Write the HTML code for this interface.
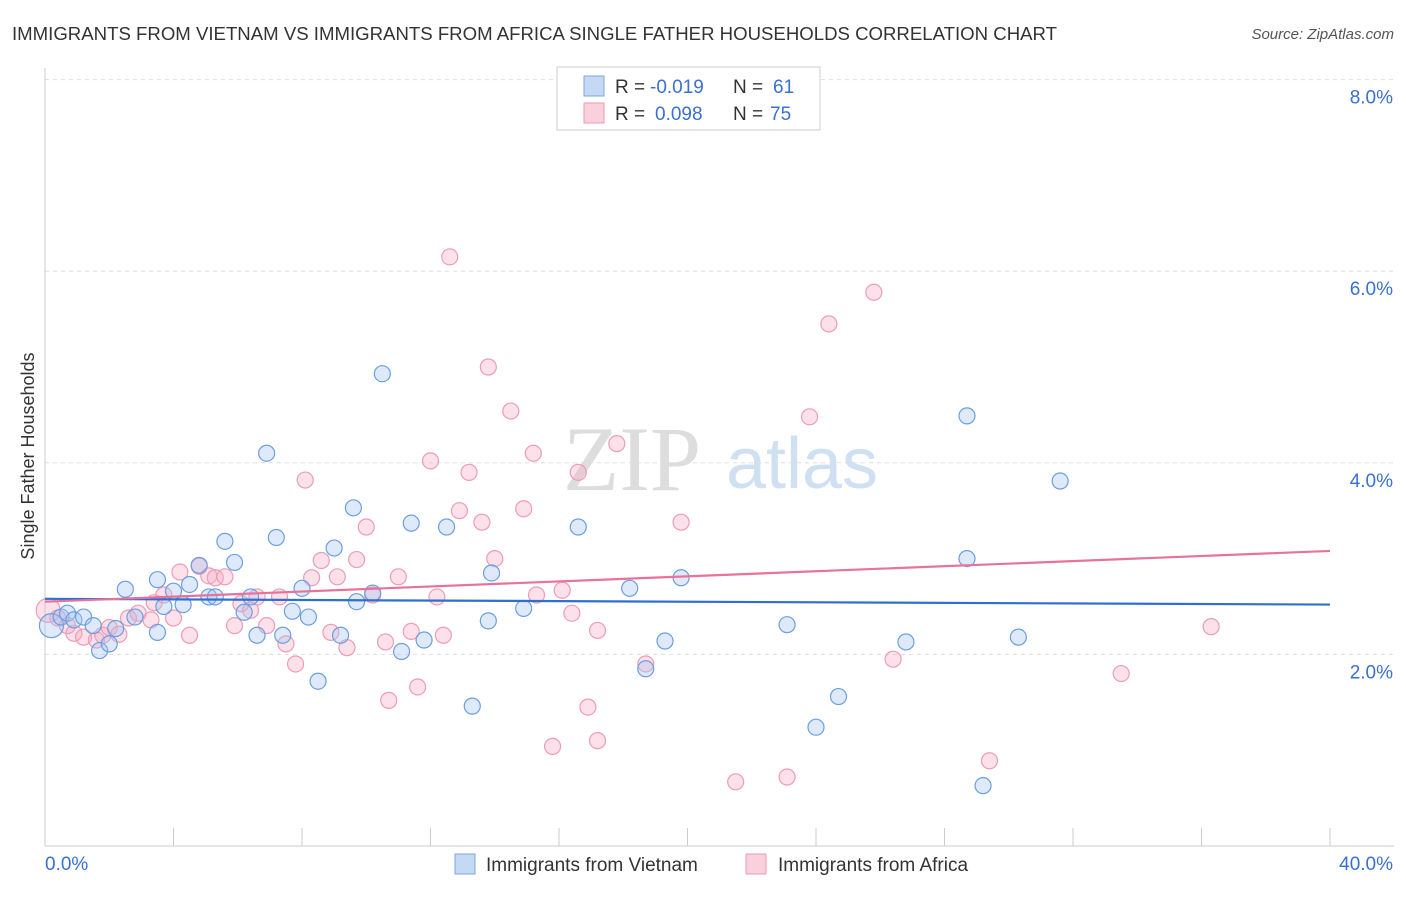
<!DOCTYPE html>
<html><head><meta charset="utf-8"><style>
body{margin:0;background:#fff;font-family:"Liberation Sans",sans-serif}
</style></head><body>
<svg id="c" width="1406" height="892" xmlns="http://www.w3.org/2000/svg">
<text x="12" y="40" font-size="18" fill="#333" textLength="1045" lengthAdjust="spacingAndGlyphs">IMMIGRANTS FROM VIETNAM VS IMMIGRANTS FROM AFRICA SINGLE FATHER HOUSEHOLDS CORRELATION CHART</text>
<text x="1394" y="39" font-size="15" fill="#555" font-style="italic" text-anchor="end">Source: ZipAtlas.com</text>
<text x="632" y="490" font-size="92" fill="#ddd" font-family="Liberation Serif" text-anchor="middle">ZIP</text>
<text x="802" y="488" font-size="72" fill="#cfe0f3" text-anchor="middle">atlas</text>
<g id="grid"></g><g id="pts"></g><g id="trend"></g>
<text transform="translate(34,456) rotate(-90)" font-size="18" fill="#333" text-anchor="middle">Single Father Households</text>
<rect x="557" y="67" width="263" height="63" fill="#fff" stroke="#ccc"/>
<rect x="584" y="76" width="20" height="20" fill="#c5d9f5" stroke="#7aa6e0"/>
<rect x="584" y="103" width="20" height="20" fill="#fbd0dd" stroke="#ec9ab4"/>
<g font-size="19" fill="#333">
<text x="615" y="93">R =</text>
<text x="650" y="93" fill="#3a70d0">-0.019</text>
<text x="733" y="93">N =</text>
<text x="773" y="93" fill="#3a70d0">61</text>
<text x="615" y="120">R =</text>
<text x="655" y="120" fill="#3a70d0">0.098</text>
<text x="733" y="120">N =</text>
<text x="770" y="120" fill="#3a70d0">75</text>
</g>
<rect x="455" y="854" width="20" height="20" fill="#c5d9f5" stroke="#7aa6e0"/>
<text x="486" y="871" font-size="19" fill="#333">Immigrants from Vietnam</text>
<rect x="746" y="854" width="20" height="20" fill="#fbd0dd" stroke="#ec9ab4"/>
<text x="778" y="871" font-size="19" fill="#333">Immigrants from Africa</text>
</svg>
<script>
const xTickLabels=["0.0%","40.0%"];
const yTicks=[2,4,6,8];
const vietX=[0.2,0.5,0.7,0.9,1.2,1.5,1.7,2.0,2.2,2.5,2.8,3.5,3.5,3.7,4.0,4.3,4.5,4.8,5.1,5.3,5.6,5.9,6.2,6.4,6.6,6.9,7.2,7.4,7.7,8.0,8.2,8.5,9.0,9.2,9.6,9.7,10.2,10.5,11.1,11.4,11.8,12.5,13.3,13.8,13.9,14.9,16.6,18.2,18.7,19.3,19.8,23.1,24.0,24.7,26.8,28.7,28.7,29.2,30.3,31.6];
const vietY=[2.3,2.39,2.43,2.36,2.39,2.3,2.04,2.11,2.27,2.68,2.39,2.78,2.23,2.5,2.66,2.52,2.73,2.93,2.6,2.6,3.18,2.96,2.44,2.6,2.2,4.1,3.22,2.2,2.45,2.69,2.39,1.72,3.11,2.2,3.53,2.55,2.64,4.93,2.03,3.37,2.15,3.33,1.46,2.35,2.85,2.48,3.33,2.69,1.85,2.14,2.8,2.31,1.24,1.56,2.13,4.49,3.0,0.63,2.18,3.81];
const afrX=[0.1,0.4,0.7,0.9,1.2,1.6,1.8,2.0,2.3,2.6,2.9,3.3,3.4,3.7,4.0,4.2,4.5,4.8,5.1,5.3,5.6,5.9,6.1,6.4,6.6,6.9,7.3,7.5,7.8,8.1,8.3,8.6,8.9,9.1,9.4,9.7,10.0,10.2,10.6,10.7,11.0,11.4,11.6,12.0,12.2,12.4,12.6,12.9,13.2,13.6,13.8,14.0,14.5,14.9,15.2,15.3,15.8,16.1,16.4,16.6,16.9,17.2,17.2,17.8,18.7,19.8,21.5,23.1,23.8,24.4,25.8,26.4,29.4,33.5,36.3];
const afrY=[2.46,2.38,2.3,2.22,2.18,2.15,2.2,2.28,2.21,2.38,2.43,2.36,2.54,2.62,2.38,2.86,2.2,2.92,2.82,2.8,2.81,2.3,2.53,2.46,2.6,2.3,2.6,2.11,1.9,3.82,2.8,2.98,2.23,2.81,2.07,2.99,3.33,2.62,2.13,1.52,2.81,2.24,1.66,4.02,2.6,2.2,6.15,3.5,3.9,3.38,5.0,3.0,4.54,3.52,4.1,2.62,1.04,2.67,2.43,3.9,1.45,2.25,1.1,4.2,1.9,3.38,0.67,0.72,4.48,5.45,5.78,1.95,0.89,1.8,2.29];
const vietTrend=[2.58,2.52], afrTrend=[2.55,3.08];
const NS="http://www.w3.org/2000/svg";
const X=v=>45+v/40*1285, Y=v=>846-v*95.8;
function mk(t,a,p){const e=document.createElementNS(NS,t);for(const k in a)e.setAttribute(k,a[k]);p.appendChild(e);return e;}
const grid=document.getElementById('grid');
yTicks.forEach(t=>{
 const l=mk('line',{x1:45,x2:1394,y1:Y(t),y2:Y(t),stroke:'#ddd','stroke-dasharray':'4,4'},grid);
 
 
 const tx=mk('text',{x:1393,y:Y(t)+24,'font-size':19,fill:'#3a70d0','text-anchor':'end'},grid);tx.textContent=t.toFixed(1)+'%';
 
 
});
const ax=mk('line',{x1:45,x2:1394,y1:846,y2:846,stroke:'#ccc'},grid);


const ay=mk('line',{x1:45,x2:45,y1:68,y2:846,stroke:'#ccc'},grid);


for(let i=0;i<=10;i++){const t=mk('line',{x1:X(i*4),x2:X(i*4),y1:828,y2:846,stroke:'#ccc'},grid);
 
 }
[[0,xTickLabels[0],'start',45],[40,xTickLabels[1],'end',1393]].forEach(d=>{const t=mk('text',{x:d[3],y:870,'font-size':19,fill:'#3a70d0','text-anchor':d[2]},grid);t.textContent=d[1];
 
 });
const pts=document.getElementById('pts');
afrX.forEach((x,i)=>{const c=mk('circle',{cx:X(x),cy:Y(afrY[i]),r:i==0?12:8,fill:'rgba(247,170,195,0.35)',stroke:'#ee9cb6','stroke-width':1.2},pts);
 
 });
vietX.forEach((x,i)=>{const c=mk('circle',{cx:X(x),cy:Y(vietY[i]),r:i==0?12:8,fill:'rgba(160,195,240,0.35)',stroke:'#6c9ee0','stroke-width':1.2},pts);
 
 });
const tr=document.getElementById('trend');
const l1=mk('line',{x1:X(0),x2:X(40),y1:Y(vietTrend[0]),y2:Y(vietTrend[1]),stroke:'#2f6fd0','stroke-width':2.2},tr);


const l2=mk('line',{x1:X(0),x2:X(40),y1:Y(afrTrend[0]),y2:Y(afrTrend[1]),stroke:'#e8729a','stroke-width':2.2},tr);


</script>
</body></html>
